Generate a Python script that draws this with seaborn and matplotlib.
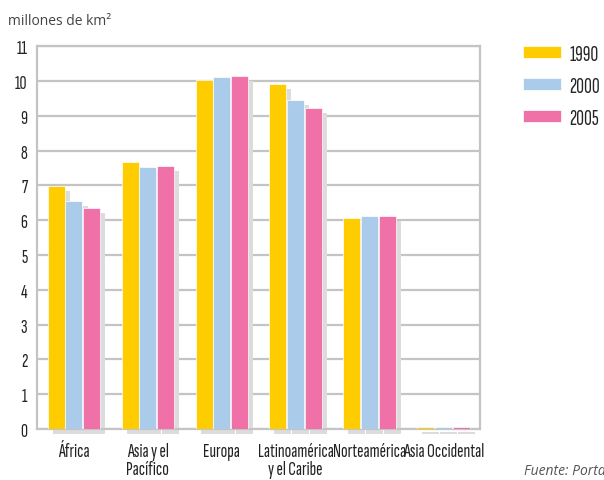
import pandas as pd
import seaborn as sns
import matplotlib.pyplot as plt
from matplotlib.patches import Rectangle

# superficie forestal por region, millones de km2
regions = ['África', 'Asia y el\nPacífico', 'Europa', 'Latinoamérica\ny el Caribe',
           'Norteamérica', 'Asia Occidental']
years = ['1990', '2000', '2005']
v1990 = [6.97, 7.66, 10.02, 9.90, 6.07, 0.06]
v2000 = [6.55, 7.54, 10.10, 9.46, 6.12, 0.06]
v2005 = [6.35, 7.56, 10.14, 9.22, 6.12, 0.06]
colors = ['#FFCC00', '#AACCEA', '#F070A8']

df = pd.DataFrame({
    'region': regions * 3,
    'year': [y for y in years for _ in regions],
    'value': v1990 + v2000 + v2005,
})

sns.set_theme(style='white')
plt.rcParams['font.family'] = ['Sofia Sans Extra Condensed', 'Roboto Condensed', 'DejaVu Sans']

fig = plt.figure(figsize=(6.04, 4.81), dpi=100)
ax = fig.add_axes([0.0613, 0.106, 0.734, 0.796])

sns.barplot(data=df, x='region', y='value', hue='year', palette=colors,
            width=0.72, gap=0.04, edgecolor='white', linewidth=0.5,
            saturation=1, ax=ax, legend=True, zorder=3)

# drop shadows behind every bar (offset right / down)
dx, dy = 0.068, 0.14
for p in list(ax.patches):
    w, h = p.get_width(), p.get_height()
    if w == 0:
        continue
    ax.add_patch(Rectangle((p.get_x() + dx, p.get_y() - dy), w, h,
                           facecolor='#DCDCDC', edgecolor='none', zorder=2,
                           clip_on=False))

ax.set_xlim(-0.5, 5.5)
ax.set_ylim(0, 11)
ax.set_yticks(range(0, 12))
ax.yaxis.grid(True, color='#C4C4C4', linewidth=1.6, zorder=0)
ax.set_axisbelow(True)
for s in ax.spines.values():
    s.set_color('#C4C4C4')
    s.set_linewidth(1.6)
ax.tick_params(axis='x', length=0, labelsize=14, pad=9, labelcolor='#222222')
ax.tick_params(axis='y', length=0, labelsize=14, pad=7, labelcolor='#222222')
for t in ax.get_xticklabels():
    t.set_linespacing(1.0)
ax.set_xlabel('')
ax.set_ylabel('')

fig.text(0.013, 0.955, 'millones de km²', fontsize=10, color='#444444',
         family=['Open Sans', 'DejaVu Sans'], va='center')
fig.text(0.868, 0.012, 'Fuente: Portal GEO', fontsize=10, color='#555555',
         style='italic', family=['Open Sans', 'DejaVu Sans'])

handles, labels = ax.get_legend_handles_labels()
ax.legend(handles, labels, loc='upper left', bbox_to_anchor=(0.866, 0.905),
          bbox_transform=fig.transFigure, frameon=False, fontsize=15.5,
          handlelength=1.75, handleheight=0.5, labelspacing=0.6,
          handletextpad=0.4, borderaxespad=0, borderpad=0)

fig.savefig('out.png', dpi=100)
